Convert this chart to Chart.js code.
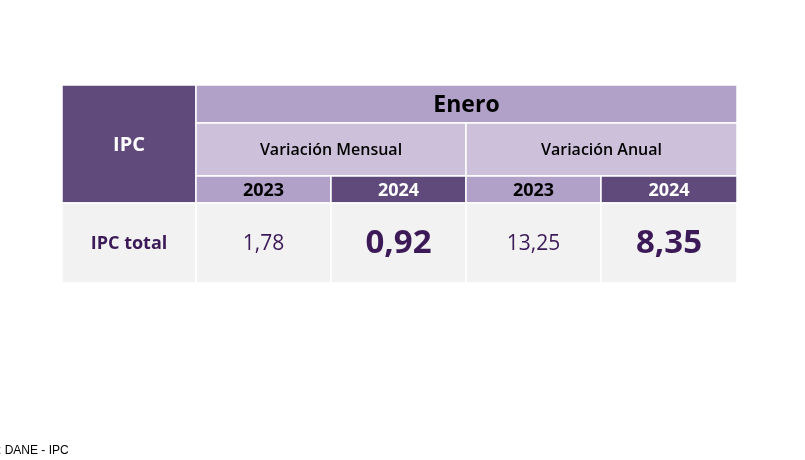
<!DOCTYPE html>
<html><head><meta charset="utf-8">
<script src="https://cdn.jsdelivr.net/npm/chart.js@4"></script>
<style>html,body{margin:0;padding:0;background:#fff}</style>
</head><body>
<canvas id="c" width="805" height="460"></canvas>
<script>
const title = "Enero";
const rowHeader = "IPC";
const groups = ["Variación Mensual", "Variación Anual"];
const years = ["2023", "2024", "2023", "2024"];
const rowLabel = "IPC total";
const values = [1.78, 0.92, 13.25, 8.35];
const source = ": DANE - IPC";

const colEdges = [62, 196, 331, 466, 601, 737];
const rowEdges = [85, 123, 176, 203, 283];
const C = {dark:"#604a7b", mid:"#b1a0c7", light:"#ccc0da", body:"#f2f2f2", val:"#3c1a58"};
const fmt = v => v.toFixed(2).replace(".", ",");

const tablePlugin = {
  id: "table",
  afterDraw(chart) {
    const ctx = chart.ctx, xs = chart.scales.x, ys = chart.scales.y;
    const X = v => xs.getPixelForValue(v), Y = v => ys.getPixelForValue(v);
    function cell(c0, c1, r0, r1, fill, text, color, font) {
      const x0 = X(colEdges[c0]), x1 = X(colEdges[c1]), y0 = Y(rowEdges[r0]), y1 = Y(rowEdges[r1]);
      ctx.fillStyle = fill; ctx.fillRect(x0, y0, x1 - x0, y1 - y0);
      ctx.strokeStyle = "#ffffff"; ctx.lineWidth = 1.5; ctx.strokeRect(x0, y0, x1 - x0, y1 - y0);
      if (text) { ctx.fillStyle = color; ctx.font = font; ctx.textAlign = "center"; ctx.textBaseline = "middle";
        ctx.fillText(text, (x0 + x1) / 2, (y0 + y1) / 2 + 1); }
    }
    const F = "'Open Sans', sans-serif";
    ctx.save();
    cell(0, 1, 0, 3, C.dark, rowHeader, "#fff", "bold 20px " + F);
    cell(1, 5, 0, 1, C.mid, title, "#000", "bold 23px " + F);
    cell(1, 3, 1, 2, C.light, groups[0], "#000", "600 16px " + F);
    cell(3, 5, 1, 2, C.light, groups[1], "#000", "600 16px " + F);
    years.forEach((y, i) => cell(i + 1, i + 2, 2, 3, i % 2 ? C.dark : C.mid, y, i % 2 ? "#fff" : "#000", "bold 18px " + F));
    cell(0, 1, 3, 4, C.body, rowLabel, C.val, "bold 18px " + F);
    values.forEach((v, i) => cell(i + 1, i + 2, 3, 4, C.body, fmt(v), C.val, i % 2 ? "bold 33px " + F : "21px " + F));
    ctx.fillStyle = "#000"; ctx.font = "12px 'Liberation Sans', Arial, sans-serif";
    ctx.textAlign = "left"; ctx.textBaseline = "middle";
    ctx.fillText(source, X(-2), Y(451));
    ctx.restore();
  }
};

new Chart(document.getElementById("c"), {
  type: "scatter",
  data: { datasets: [{ data: [], pointRadius: 0 }] },
  options: {
    responsive: false, animation: false, devicePixelRatio: 1,
    layout: { padding: 0 },
    plugins: { legend: { display: false }, tooltip: { enabled: false } },
    scales: {
      x: { type: "linear", min: 0, max: 805, display: false },
      y: { type: "linear", min: 0, max: 460, reverse: true, display: false }
    }
  },
  plugins: [tablePlugin]
});
</script>
</body></html>
